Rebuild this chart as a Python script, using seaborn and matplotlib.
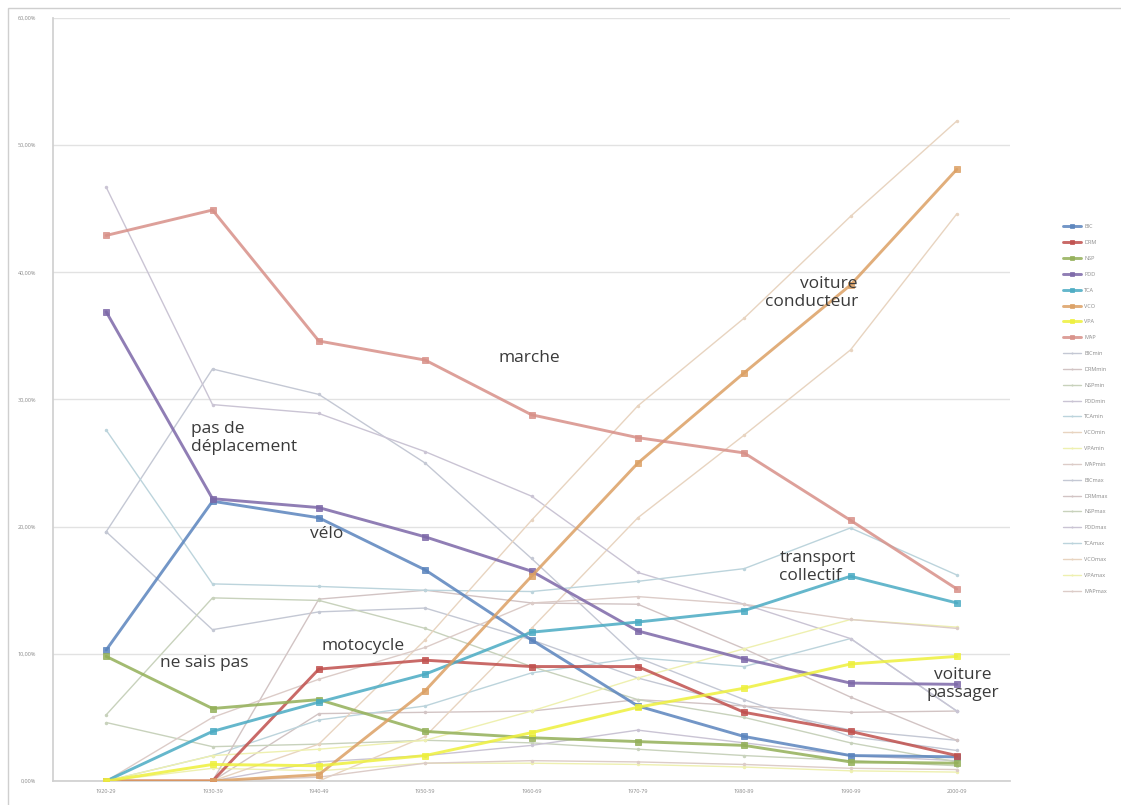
import numpy as np
import pandas as pd
import matplotlib
matplotlib.use("Agg")
import matplotlib.pyplot as plt
from matplotlib.ticker import FuncFormatter
from matplotlib.patches import Rectangle
import seaborn as sns

# ---------------- data ----------------
decades = ["1920-29", "1930-39", "1940-49", "1950-59", "1960-69",
           "1970-79", "1980-89", "1990-99", "2000-09"]

BIC = [10.3, 22.0, 20.7, 16.6, 11.1, 5.9, 3.5, 2.0, 1.9]
DRM = [0.0, 0.0, 8.8, 9.5, 9.0, 9.0, 5.4, 3.9, 2.0]
NSP = [9.8, 5.7, 6.4, 3.9, 3.4, 3.1, 2.8, 1.5, 1.4]
PDD = [36.9, 22.2, 21.5, 19.2, 16.5, 11.8, 9.6, 7.7, 7.6]
TCA = [0.0, 3.9, 6.2, 8.4, 11.7, 12.5, 13.4, 16.1, 14.0]
VCO = [0.0, 0.0, 0.5, 7.1, 16.1, 25.0, 32.1, 39.0, 48.1]
VPA = [0.0, 1.3, 1.2, 2.0, 3.8, 5.8, 7.3, 9.2, 9.8]
MAP = [42.9, 44.9, 34.6, 33.1, 28.8, 27.0, 25.8, 20.5, 15.1]

BICmin = [19.6, 11.9, 13.3, 13.6, 11.1, 8.1, 5.9, 4.0, 3.2]
DRMmin = [0.0, 0.0, 5.3, 5.4, 5.5, 6.4, 5.9, 5.4, 5.5]
NSPmin = [4.6, 2.7, 2.9, 3.2, 3.0, 2.5, 2.0, 1.6, 1.2]
PDDmin = [0.0, 0.0, 1.5, 2.0, 2.8, 4.0, 3.0, 2.0, 1.6]
TCAmin = [0.0, 2.0, 4.8, 5.9, 8.5, 9.7, 9.0, 11.2, 5.5]
VCOmin = [0.0, 0.0, 0.0, 3.5, 12.0, 20.7, 27.2, 33.9, 44.6]
VPAmin = [0.0, 1.0, 0.8, 1.4, 1.4, 1.3, 1.1, 0.8, 0.7]
MAPmin = [0.0, 0.0, 0.3, 1.4, 1.6, 1.5, 1.3, 1.0, 0.9]
BICmax = [19.6, 32.4, 30.4, 25.0, 17.5, 9.7, 6.4, 3.5, 2.4]
DRMmax = [0.0, 0.0, 14.3, 15.0, 14.0, 13.9, 10.4, 6.6, 3.2]
NSPmax = [5.2, 14.4, 14.2, 12.0, 9.0, 6.4, 5.0, 3.0, 1.5]
PDDmax = [46.7, 29.6, 28.9, 25.9, 22.4, 16.4, 13.9, 11.2, 5.5]
TCAmax = [27.6, 15.5, 15.3, 15.0, 14.9, 15.7, 16.7, 19.9, 16.2]
VCOmax = [0.0, 0.0, 2.9, 11.1, 20.5, 29.5, 36.4, 44.4, 51.9]
VPAmax = [0.0, 2.0, 2.5, 3.2, 5.5, 8.1, 10.4, 12.7, 12.1]
MAPmax = [0.0, 5.0, 8.0, 10.5, 14.0, 14.5, 13.9, 12.7, 12.0]

main_names = ["BIC", "DRM", "NSP", "PDD", "TCA", "VCO", "VPA", "MAP"]
main_vals = [BIC, DRM, NSP, PDD, TCA, VCO, VPA, MAP]
main_colors = ["#5a84bd", "#c0504d", "#93b058", "#7d68a8",
               "#4aabc3", "#dca064", "#eef03c", "#d89088"]

min_names = [n + "min" for n in main_names]
max_names = [n + "max" for n in main_names]
min_vals = [BICmin, DRMmin, NSPmin, PDDmin, TCAmin, VCOmin, VPAmin, MAPmin]
max_vals = [BICmax, DRMmax, NSPmax, PDDmax, TCAmax, VCOmax, VPAmax, MAPmax]
light_colors = ["#c4c8d4", "#d2c4c4", "#c8d2bc", "#cac4d4",
                "#bcd4dc", "#e8d4c0", "#eef0b0", "#dcccc8"]

annotations = [
    ("marche", 3.98, 33.3, "center"),
    ("pas de\ndéplacement", 0.80, 27.0, "left"),
    ("vélo", 2.07, 19.4, "center"),
    ("motocycle", 2.42, 10.6, "center"),
    ("ne sais pas", 0.92, 9.3, "center"),
    ("voiture\nconducteur", 7.07, 38.4, "right"),
    ("transport\ncollectif", 6.33, 16.8, "left"),
    ("voiture\npassager", 8.06, 7.6, "center"),
]

# ---------------- plotting ----------------
sns.set_theme(style="white")
plt.rcParams["font.family"] = ["Open Sans", "DejaVu Sans"]

fig = plt.figure(figsize=(11.21, 8.05), dpi=100)
ax = fig.add_axes([53 / 1121, 1 - 781 / 805, (1010 - 53) / 1121, (781 - 18) / 805])

x = np.arange(len(decades))

# light min / max series first (behind)
for names, vals in ((min_names, min_vals), (max_names, max_vals)):
    for name, v, c in zip(names, vals, light_colors):
        df = pd.DataFrame({"x": x, "y": v})
        sns.lineplot(data=df, x="x", y="y", ax=ax, color=c, lw=1.0,
                     marker="o", markersize=2.5, markeredgewidth=0,
                     label=name, legend=False, zorder=2)

for name, v, c in zip(main_names, main_vals, main_colors):
    df = pd.DataFrame({"x": x, "y": v})
    sns.lineplot(data=df, x="x", y="y", ax=ax, color=c, lw=2.1, alpha=0.85,
                 marker="s", markersize=4.2, markeredgewidth=0.6,
                 markeredgecolor=c, label=name, legend=False, zorder=3)

ax.set_xlim(-0.5, 8.5)
ax.set_ylim(0, 60)
ax.set_yticks(np.arange(0, 61, 10))
ax.yaxis.set_major_formatter(FuncFormatter(lambda v, p: f"{v:.2f}%".replace(".", ",")))
ax.set_xticks(x)
ax.set_xticklabels(decades)
ax.set_xticks(np.arange(-0.5, 9, 1), minor=True)
ax.set_xlabel("")
ax.set_ylabel("")
ax.grid(axis="y", color="#e2e2e2", lw=1.0)
ax.tick_params(axis="both", labelsize=4, colors="#8a8a8a", length=0, pad=12)
ax.tick_params(axis="x", pad=6)
ax.tick_params(axis="x", which="minor", length=3, color="#d0d0d0")
for s in ["top", "right"]:
    ax.spines[s].set_visible(False)
ax.spines["left"].set_color("#d0d0d0")
ax.spines["bottom"].set_color("#d0d0d0")

for txt, xx, yy, ha in annotations:
    ax.text(xx, yy, txt, ha=ha, va="center", fontsize=12.5, color="#3a3a3a",
            linespacing=1.15, zorder=5)

# legend: main series first then min, then max
h, l = ax.get_legend_handles_labels()
order = main_names + min_names + max_names
hd = dict(zip(l, h))
fig.legend([hd[n] for n in order], order, loc="center left",
           bbox_to_anchor=(1058 / 1121, 1 - 409 / 805), frameon=False,
           fontsize=4, labelcolor="#8a8a8a", labelspacing=1.95,
           handlelength=3.2, handletextpad=0.6, markerscale=0.6)

# outer frame
fig.patches.append(Rectangle((8 / 1121, -0.01), 1.02, 1 - 8 / 805 + 0.01,
                             transform=fig.transFigure, fill=False,
                             edgecolor="#cfcfcf", lw=1.0))

fig.savefig("out.png", dpi=100)
